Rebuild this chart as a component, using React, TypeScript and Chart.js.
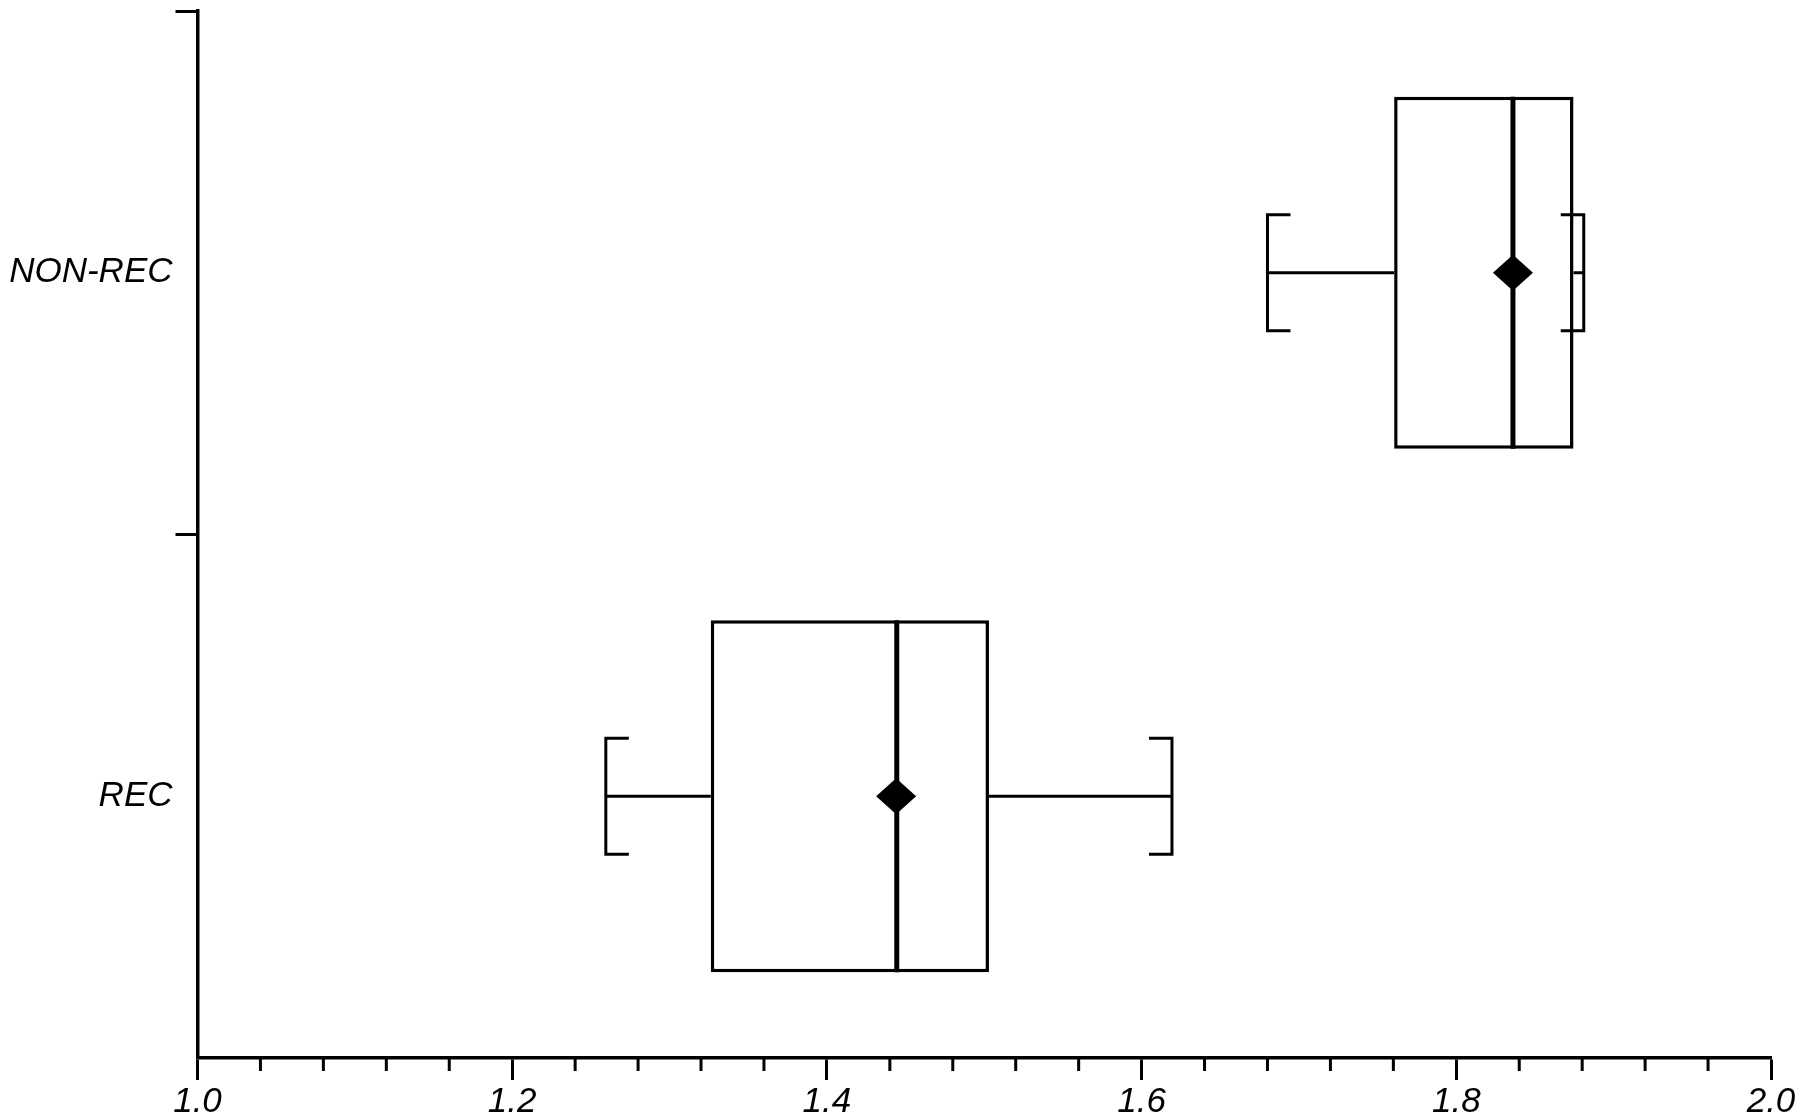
import React, { useEffect, useRef } from 'react';
import { Chart, registerables } from 'chart.js';

Chart.register(...registerables);

// ---- data ----
const categories = ['NON-REC', 'REC'];
const whiskerLow = [1.68, 1.2595];
const q1 = [1.7605, 1.3262];
const median = [1.836, 1.4444];
const q3 = [1.8745, 1.503];
const whiskerHigh = [1.881, 1.6193];
const means = [1.836, 1.444];

const xMin = 1.0;
const xMax = 2.0;
const majorStep = 0.2;
const minorStep = 0.04;

const FONT = '"Liberation Sans", Arial, Helvetica, sans-serif';

const boxPlugin = {
  id: 'boxWhiskers',
  afterDatasetsDraw(chart: any) {
    const ctx = chart.ctx;
    const xs = chart.scales.x;
    const ys = chart.scales.y;
    const meta = chart.getDatasetMeta(0);
    const band = Math.abs(ys.getPixelForValue(1) - ys.getPixelForValue(0));
    const capHalf = band * 0.111;
    const foot = 23;
    const diamondR = 20;
    ctx.save();
    ctx.strokeStyle = '#000';
    ctx.fillStyle = '#000';
    ctx.lineCap = 'butt';
    ctx.lineJoin = 'miter';
    categories.forEach((_c, i) => {
      const el = meta.data[i];
      const yc = ys.getPixelForValue(i);
      const top = el.y - el.height / 2;
      const bottom = el.y + el.height / 2;
      const xl = xs.getPixelForValue(whiskerLow[i]);
      const xq1 = xs.getPixelForValue(q1[i]);
      const xq3 = xs.getPixelForValue(q3[i]);
      const xh = xs.getPixelForValue(whiskerHigh[i]);
      const xm = xs.getPixelForValue(median[i]);
      const xmean = xs.getPixelForValue(means[i]);
      ctx.lineWidth = 3;
      ctx.beginPath();
      ctx.moveTo(xl, yc);
      ctx.lineTo(xq1, yc);
      ctx.moveTo(xq3, yc);
      ctx.lineTo(xh, yc);
      ctx.stroke();
      ctx.beginPath();
      ctx.moveTo(xl + foot, yc - capHalf);
      ctx.lineTo(xl, yc - capHalf);
      ctx.lineTo(xl, yc + capHalf);
      ctx.lineTo(xl + foot, yc + capHalf);
      ctx.moveTo(xh - foot, yc - capHalf);
      ctx.lineTo(xh, yc - capHalf);
      ctx.lineTo(xh, yc + capHalf);
      ctx.lineTo(xh - foot, yc + capHalf);
      ctx.stroke();
      ctx.lineWidth = 5;
      ctx.beginPath();
      ctx.moveTo(xm, top);
      ctx.lineTo(xm, bottom);
      ctx.stroke();
      // mean diamond
      ctx.beginPath();
      ctx.moveTo(xmean - diamondR, yc);
      ctx.lineTo(xmean, yc - diamondR * 0.9);
      ctx.lineTo(xmean + diamondR, yc);
      ctx.lineTo(xmean, yc + diamondR * 0.9);
      ctx.closePath();
      ctx.fill();
    });
    ctx.restore();
  },
};

const minorTickPlugin = {
  id: 'minorTicks',
  afterDraw(chart: any) {
    const ctx = chart.ctx;
    const xs = chart.scales.x;
    const y0 = chart.chartArea.bottom;
    ctx.save();
    ctx.strokeStyle = '#000';
    ctx.lineWidth = 3;
    ctx.beginPath();
    const n = Math.round((xMax - xMin) / minorStep);
    for (let k = 0; k <= n; k++) {
      const v = xMin + k * minorStep;
      const r = (v - xMin) / majorStep;
      if (Math.abs(r - Math.round(r)) < 1e-6) continue;
      const px = xs.getPixelForValue(v);
      ctx.moveTo(px, y0);
      ctx.lineTo(px, y0 + 13);
    }
    ctx.stroke();
    ctx.restore();
  },
};

export default function App() {
  const ref = useRef<HTMLCanvasElement | null>(null);

  useEffect(() => {
    if (!ref.current) return;
    const chart = new Chart(ref.current, {
      type: 'bar',
      data: {
        labels: categories,
        datasets: [
          {
            type: 'bar',
            data: categories.map((_c, i) => [q1[i], q3[i]]) as any,
            backgroundColor: '#ffffff',
            borderColor: '#000000',
            borderWidth: 3.5,
            borderSkipped: false,
            categoryPercentage: 1,
            barPercentage: 0.672,
          } as any,
        ],
      },
      options: {
        responsive: false,
        animation: false,
        devicePixelRatio: 1,
        indexAxis: 'y',
        events: [],
        layout: { padding: { top: 11, right: 29, left: 0, bottom: 0 } },
        plugins: {
          legend: { display: false },
          tooltip: { enabled: false },
          title: { display: false },
        },
        scales: {
          x: {
            type: 'linear',
            position: 'bottom',
            min: xMin,
            max: xMax,
            afterFit: (s: any) => {
              s.height = 62;
              s.paddingLeft = 0;
              s.paddingRight = 0;
            },
            ticks: {
              stepSize: majorStep,
              color: '#000',
              padding: 1,
              font: { family: FONT, size: 35, style: 'italic' },
              callback: (v: any) => Number(v).toFixed(1),
              maxRotation: 0,
              autoSkip: false,
            },
            grid: {
              drawOnChartArea: false,
              drawTicks: true,
              tickLength: 22,
              tickWidth: 3,
              tickColor: '#000',
              color: '#000',
            },
            border: { display: true, color: '#000', width: 3.5 },
          },
          y: {
            type: 'category',
            labels: categories,
            offset: true,
            afterFit: (s: any) => {
              s.width = 197.5;
              s.paddingTop = 0;
              s.paddingBottom = 0;
            },
            ticks: {
              color: '#000',
              padding: 3,
              font: { family: FONT, size: 35, style: 'italic' },
            },
            grid: {
              offset: true,
              drawOnChartArea: false,
              drawTicks: true,
              tickLength: 22,
              tickWidth: 3,
              tickColor: (ctx: any) => (ctx.type === 'tick' ? '#000' : 'rgba(0,0,0,0)'),
              color: '#000',
            },
            border: { display: true, color: '#000', width: 3.5 },
          },
        },
      } as any,
      plugins: [boxPlugin, minorTickPlugin],
    });
    return () => chart.destroy();
  }, []);

  return (
    <div style={{ position: 'fixed', left: 0, top: 0, width: 1800, height: 1120, background: '#fff' }}>
      <canvas ref={ref} width={1800} height={1120} style={{ width: 1800, height: 1120, display: 'block' }} />
    </div>
  );
}
